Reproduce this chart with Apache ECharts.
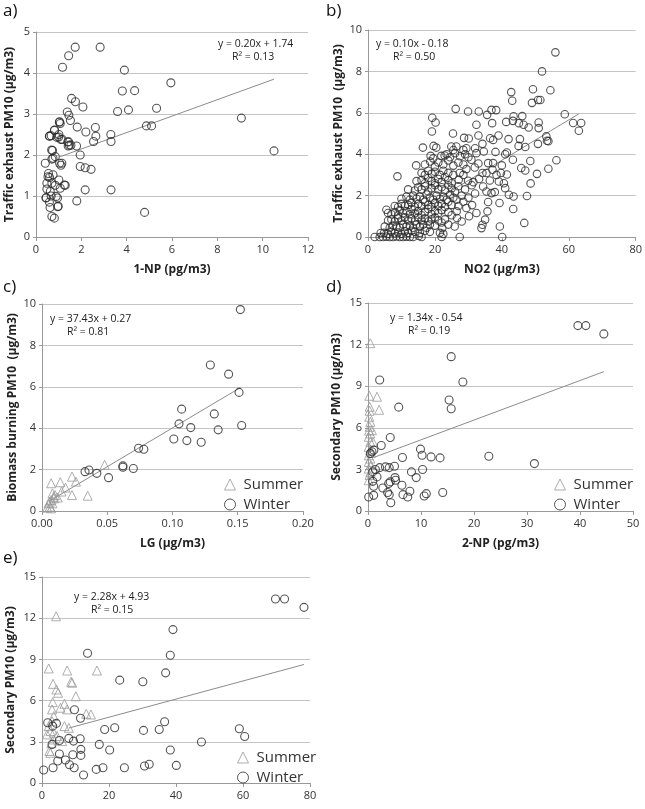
<!DOCTYPE html>
<html>
<head>
<meta charset="utf-8">
<script src="https://cdn.jsdelivr.net/npm/echarts@6/dist/echarts.min.js"></script>
<style>
  html, body { margin: 0; padding: 0; background: #fff; }
  #main { width: 645px; height: 809px; }
</style>
</head>
<body>
<div id="main"></div>
<script>
// a) 1-NP vs traffic exhaust PM10
var aPoints = [
  [1.73,4.63],[2.83,4.63],[1.44,4.42],[1.17,4.14],[3.9,4.07],[5.95,3.76],[3.81,3.56],[4.35,3.57],
  [1.57,3.38],[1.74,3.30],[2.07,3.17],[3.6,3.06],[4.08,3.10],[5.32,3.14],[1.38,3.05],[1.45,2.97],
  [1.04,2.81],[1.52,2.84],[1.07,2.77],[0.82,2.61],[1.82,2.68],[2.62,2.67],[0.6,2.46],[0.67,2.47],
  [1.01,2.5],[2.2,2.56],[2.64,2.46],[3.3,2.5],[0.92,2.43],[1.16,2.38],[1.44,2.32],[1.54,2.24],
  [1.42,2.22],[1.79,2.22],[2.54,2.33],[3.31,2.33],[4.87,2.71],[5.1,2.71],[9.06,2.9],[10.5,2.1],
  [0.73,2.11],[1.95,2.0],[0.85,1.96],[0.7,1.9],[0.75,1.92],[0.41,1.8],[1.04,1.8],[1.1,1.75],
  [1.14,1.8],[1.95,1.72],[2.17,1.69],[2.43,1.65],[0.53,1.47],[0.75,1.52],[1.01,1.39],[1.29,1.26],
  [0.48,1.31],[0.7,1.31],[0.85,1.26],[0.48,1.17],[0.63,1.11],[1.07,1.19],[2.17,1.15],[3.31,1.15],
  [0.45,0.96],[0.67,1.0],[0.89,0.99],[0.95,0.95],[0.59,0.85],[1.8,0.88],[0.62,0.72],[0.98,0.75],
  [0.7,0.5],[0.81,0.46],[4.79,0.6],[0.69,2.12],[1.03,2.8],[0.59,2.46],[0.81,2.6],[1.0,2.44],
  [1.1,2.38],[1.4,2.32],[1.47,2.24],[1.25,1.27],[0.6,1.45],[0.55,1.55],[0.44,0.95],[0.96,0.74]
];
var aLine = [[1.07,1.96],[10.5,3.85]];

// b) NO2 vs traffic exhaust PM10
var bPoints = [
  [2,0],[3.5,0],[4.5,0],[5.5,0.02],[6.5,0],[7.5,0],[8.5,0.03],[9.5,0],[10.5,0],[11.5,0.02],[12.5,0],
  [13.5,0],[15.2,0.05],[16,0],[22,0],[27.4,0],[40.1,0],
  [3.8,0.19],[4.8,0.2],[6,0.15],[7,0.25],[8,0.18],[9,0.22],[10,0.15],[11,0.28],[12,0.2],[13,0.3],
  [14,0.25],[15.5,0.2],[17,0.3],[18.5,0.25],[21.5,0.2],[22.5,0.15],
  [5,0.5],[6.5,0.45],[7.5,0.55],[8.5,0.5],[9.5,0.45],[10.5,0.6],[11.5,0.5],[12.5,0.55],[13.5,0.45],
  [14.5,0.6],[15.5,0.5],[16.5,0.6],[17.5,0.45],[18.5,0.6],[20,0.55],[22.2,0.43],[22,0.7],[25.9,0.51],
  [24,0.6],[33.9,0.43],[34.2,0.59],[39.4,0.51],[46.7,0.68],
  [6,0.8],[7,0.85],[8,0.75],[9,0.9],[10,0.8],[11,0.95],[12,0.8],[13,0.9],[14,0.75],[15,0.95],[16,0.8],
  [17,0.9],[18,0.75],[19,0.85],[20,0.95],[21,0.8],[23,0.85],[26.6,0.92],[30.2,1.0],[35,0.84],[28,0.75],
  [5.5,1.32],[6,1.16],[7,1.1],[8,1.2],[9,1.05],[9.5,1.3],[10.5,1.15],[11.5,1.25],[12.5,1.1],[13,1.35],
  [14,1.15],[15,1.25],[16,1.05],[17,1.2],[18,1.35],[19,1.1],[20,1.25],[21,1.15],[22,1.3],[24,1.2],
  [26.5,1.24],[29.4,1.4],[32.4,1.16],[35.7,1.24],[25,1.05],
  [8,1.5],[9,1.45],[10,1.6],[11,1.5],[12,1.55],[13,1.65],[14,1.45],[15,1.6],[16,1.5],[17,1.7],[18,1.55],
  [19,1.45],[20,1.65],[21,1.5],[22,1.6],[23,1.45],[24,1.7],[25,1.55],[27,1.5],[31.1,1.54],[35.9,1.69],
  [39.3,1.64],[43.4,1.35],[28.5,1.7],
  [10,1.85],[11.5,1.95],[12.5,1.8],[13.5,2.0],[14.5,1.85],[15.5,1.95],[16.5,1.8],[17.5,2.05],[18.5,1.9],
  [19.5,1.8],[20.5,2.0],[21.5,1.85],[22.5,1.95],[23.5,1.8],[24.5,2.05],[25.5,1.9],[26.5,1.8],[28,2.0],
  [30,1.9],[32,2.1],[36.9,2.12],[37.9,2.17],[35.4,2.2],[42.1,2.04],[43.5,1.96],[47.5,1.98],
  [12,2.3],[14,2.25],[15,2.4],[16,2.3],[17,2.45],[18,2.2],[19,2.35],[20,2.5],[21,2.3],[22,2.4],[23,2.25],
  [24,2.5],[25,2.35],[26,2.2],[27,2.45],[29,2.3],[34.4,2.44],[41,2.36],[31,2.5],
  [14.5,2.7],[16,2.75],[17,2.6],[18,2.85],[19,2.7],[20,2.6],[21,2.8],[22,2.65],[23,2.9],[24,2.75],
  [25,2.6],[27.1,2.77],[29.9,2.72],[33.2,2.8],[36.4,2.73],[39.1,2.68],[40.6,2.6],[48.6,2.59],[31.5,2.65],
  [8.8,2.93],[16,3.1],[17,3.0],[18,3.2],[19,3.05],[20,3.15],[21.5,3.0],[22.5,3.2],[24,3.1],[25.5,3.0],
  [27.4,3.09],[29.4,3.28],[31.9,3.36],[34.2,3.09],[35.4,3.09],[37.2,3.25],[38.4,3.0],[39.7,3.09],
  [41.5,3.02],[45.8,3.33],[47,3.21],[50.5,3.05],[53.9,3.3],[28.5,3.0],
  [14.4,3.46],[17,3.5],[18.6,3.65],[20,3.4],[21,3.6],[22.5,3.5],[24,3.7],[25.5,3.45],[27,3.6],[28.5,3.5],
  [30.9,3.73],[33,3.55],[35.9,3.57],[37.4,3.57],[40,3.46],[43.3,3.73],[48.5,3.67],[56.3,3.71],
  [18.7,3.92],[19.5,3.8],[21.9,3.92],[22.9,3.94],[23.5,4.0],[24.5,3.85],[26,4.05],[27.5,3.9],[29,4.0],
  [32.4,4.05],[34.6,4.13],[38.1,4.11],[41,4.0],[41.5,4.08],[30,3.85],
  [16.4,4.32],[19.6,4.4],[20.4,4.32],[24.9,4.37],[26.4,4.37],[28.5,4.21],[29.4,4.29],[32,4.29],
  [34.2,4.5],[37.4,4.69],[50.8,4.5],[25.5,4.2],[45,4.4],[47,4.35],
  [25.4,5.0],[28.7,4.79],[30.1,4.76],[36.5,4.77],[42,4.73],[45.4,4.73],[53.3,4.86],[53.9,4.63],
  [39,4.9],[33,4.9],[53.5,4.65],
  [19.1,5.1],[19.2,5.76],[20.2,5.53],[26.2,6.19],[29.9,6.06],[33.1,6.06],[36.9,6.14],[38.3,6.13],
  [35.6,5.9],[32.4,5.42],[37.1,5.5],[41.3,5.56],[43.5,5.83],[46.1,5.84],[43.3,5.61],[45.1,5.5],
  [46.5,5.42],[48,5.29],[51,5.53],[51,5.26],[42.8,7.0],[49.3,7.14],[54.5,7.09],[43.1,6.58],[49,6.48],
  [50.8,6.62],[51.5,6.62],[52,8.0],[56,8.92],[58.8,5.93],[63.7,5.51],[63,5.13],[61.3,5.51]
];
var bLine = [[2.5,0.05],[63,5.95]];

// c) LG vs biomass burning PM10
var cSummer = [
  [0.048,2.23],[0.023,1.66],[0.026,1.42],[0.014,1.39],[0.007,1.34],[0.018,1.13],[0.015,0.94],
  [0.023,0.77],[0.035,0.74],[0.009,0.61],[0.007,0.53],[0.008,0.37],[0.006,0.21],[0.009,0.69],
  [0.01,0.77],[0.012,0.65],[0.005,0.37],[0.007,0.13],[0.004,0.16],[0.006,0.45],[0.008,0.85]
];
var cWinter = [
  [0.152,9.73],[0.129,7.05],[0.143,6.61],[0.151,5.73],[0.132,4.69],[0.153,4.13],[0.135,3.92],
  [0.114,4.03],[0.107,4.92],[0.105,4.21],[0.101,3.48],[0.111,3.4],[0.122,3.32],[0.074,3.03],
  [0.078,2.98],[0.062,2.18],[0.062,2.11],[0.07,2.05],[0.051,1.61],[0.042,1.82],[0.036,1.98],
  [0.033,1.9]
];
var cLine = [[0.007,0.53],[0.152,5.96]];

// d) 2-NP vs secondary PM10
var dSummer = [
  [0.44,12.1],[0.25,8.31],[1.7,8.24],[2.1,7.3],[0.31,7.52],[0.31,7.23],[0.25,6.8],[0.44,6.43],
  [0.31,6.07],[0.75,5.83],[0.44,5.59],[0.13,5.35],[0.44,4.99],[0.94,4.99],[0.13,4.63],[0.44,4.39],
  [0.13,4.02],[0.44,3.78],[0.13,3.54],[0.57,3.3],[0.13,3.06],[0.44,2.82],[0.13,2.22],[0.3,2.6],
  [0.6,4.2],[0.2,5.8]
];
var dWinter = [
  [39.6,13.37],[41.1,13.37],[44.5,12.77],[15.7,11.13],[17.9,9.3],[2.2,9.45],[15.3,8.0],[15.7,7.37],
  [5.8,7.49],[4.2,5.3],[2.5,4.72],[9.9,4.46],[10.2,4.02],[11.9,3.9],[13.6,3.83],[22.8,3.95],
  [31.4,3.42],[6.5,3.86],[0.75,4.27],[0.44,4.14],[1.1,4.39],[0.9,2.82],[1.4,2.99],[2.2,3.13],
  [3.3,3.18],[5,3.23],[4.0,3.13],[8.2,2.82],[10.3,2.99],[9.1,2.41],[5.1,2.41],[4.2,2.1],[3.9,1.98],
  [0.9,2.14],[2.8,1.66],[1.07,1.78],[3.7,1.33],[4.0,1.18],[4.3,0.6],[1.07,1.13],[0.13,1.01],
  [6.6,1.18],[7.5,1.01],[7.9,1.42],[10.6,1.08],[11,1.25],[14.1,1.33],[6.4,1.86],[5.2,2.22],[1.7,2.46]
];
var dLine = [[1.07,3.86],[44.5,10.05]];

// e) secondary PM10 (second tracer)
var eSummer = [
  [4.2,12.14],[2,8.34],[7.5,8.19],[16.4,8.19],[8.7,7.37],[9.0,7.3],[3.3,7.22],[4.3,6.81],[4.8,6.57],
  [10.1,6.32],[3.2,5.89],[6.7,5.77],[3,5.36],[5.5,5.48],[7.5,5.36],[3.5,4.87],[13.2,5.04],[14.6,4.99],
  [8,4.02],[6.7,4.14],[2,4.14],[2.5,3.78],[3.5,3.66],[1.5,3.54],[2.2,2.33],[2.5,2.2],[3.5,3.17],
  [4.5,3.42],[6,3.05],[3.0,4.5],[2.8,2.9]
];
var eWinter = [
  [69.7,13.4],[72.4,13.4],[78.2,12.79],[39.1,11.17],[38.3,9.3],[13.6,9.45],[36.9,8.02],[23.2,7.49],
  [30.1,7.37],[9.7,5.33],[11.5,4.72],[1.7,4.39],[36.6,4.46],[35,3.9],[21.7,4.02],[18.7,3.9],
  [30.3,3.83],[58.9,3.95],[60.5,3.39],[47.6,2.98],[38.3,2.4],[20.2,2.4],[17.1,2.81],[11.4,3.22],
  [8,3.25],[5.2,3.1],[3,2.81],[9.4,3.05],[11.6,2.45],[11.6,2.01],[9.2,2.06],[5.2,2.11],[4.7,1.6],
  [7,1.67],[8.2,1.33],[9.6,1.11],[0.5,0.95],[3.3,1.11],[12.4,0.58],[16.2,0.99],[18.2,1.11],
  [24.6,1.11],[30.6,1.24],[32,1.36],[40.1,1.28],[3.2,4.14],[4.3,4.34]
];
var eLine = [[8,4.0],[78.2,8.63]];

var panelLetters = ['a)', 'b)', 'c)', 'd)', 'e)'];
var equations = ['y = 0.20x + 1.74', 'y = 0.10x - 0.18', 'y = 37.43x + 0.27', 'y = 1.34x - 0.54', 'y = 2.28x + 4.93'];
var rSquared = ['R\u00b2 = 0.13', 'R\u00b2 = 0.50', 'R\u00b2 = 0.81', 'R\u00b2 = 0.19', 'R\u00b2 = 0.15'];

var chart = echarts.init(document.getElementById('main'));
var FONT = 'Open Sans';

function xAxis(grid, min, max, interval, name, digits) {
  return {
    type: 'value', gridIndex: grid, min: min, max: max, interval: interval,
    name: name, nameLocation: 'middle', nameGap: 27,
    nameTextStyle: { fontFamily: FONT, fontWeight: 'bold', fontSize: 12, color: '#222' },
    axisLine: { lineStyle: { color: '#999' } },
    axisTick: { show: true, length: 4, lineStyle: { color: '#999' } },
    axisLabel: { fontFamily: FONT, fontSize: 11, color: '#333', margin: 7,
      formatter: function (v) { return digits ? v.toFixed(digits) : String(v); } },
    splitLine: { show: false }
  };
}
function yAxis(grid, min, max, interval, name, gap) {
  return {
    type: 'value', gridIndex: grid, min: min, max: max, interval: interval,
    name: name, nameLocation: 'middle', nameGap: gap,
    nameTextStyle: { fontFamily: FONT, fontWeight: 'bold', fontSize: 12, color: '#222' },
    axisLine: { show: true, lineStyle: { color: '#999' } },
    axisTick: { show: true, length: 3, lineStyle: { color: '#999' } },
    axisLabel: { fontFamily: FONT, fontSize: 11, color: '#333', margin: 6 },
    splitLine: { lineStyle: { color: '#c4c4c4', width: 1 } }
  };
}
function circles(name, data, idx, size) {
  return { name: name, type: 'scatter', xAxisIndex: idx, yAxisIndex: idx, data: data,
    symbol: 'circle', symbolSize: size, z: 3,
    itemStyle: { color: 'rgba(255,255,255,0)', borderColor: '#2a2a2a', borderWidth: 1.1 } };
}
function triangles(name, data, idx) {
  return { name: name, type: 'scatter', xAxisIndex: idx, yAxisIndex: idx, data: data,
    symbol: 'triangle', symbolSize: 9, z: 3,
    itemStyle: { color: 'rgba(255,255,255,0)', borderColor: '#9a9a9a', borderWidth: 1 } };
}
function trend(data, idx) {
  return { type: 'line', xAxisIndex: idx, yAxisIndex: idx, data: data, symbol: 'none', z: 2,
    silent: true, lineStyle: { color: '#8c8c8c', width: 1 } };
}
function legendAt(left, top) {
  return { data: ['Summer', 'Winter'], orient: 'vertical', left: left, top: top,
    itemWidth: 11, itemHeight: 11, itemGap: 5,
    itemStyle: { borderWidth: 1 },
    textStyle: { fontFamily: FONT, fontSize: 15, color: '#333', padding: [0, 0, 0, 3] } };
}

var letterPos = [[3, 3], [326, 3], [3, 279], [326, 279], [3, 550]];
var eqPos = [[218, 39, 232, 52], [376, 39, 393, 52], [50, 314, 67, 327], [390, 313, 408, 326], [74, 592, 91, 605]];
var graphics = [];
panelLetters.forEach(function (t, i) {
  graphics.push({ type: 'text', left: letterPos[i][0], top: letterPos[i][1],
    style: { text: t, fontFamily: FONT, fontSize: 17, fill: '#111' } });
  graphics.push({ type: 'text', left: eqPos[i][0], top: eqPos[i][1],
    style: { text: equations[i], fontFamily: FONT, fontSize: 10.5, fill: '#222' } });
  graphics.push({ type: 'text', left: eqPos[i][2], top: eqPos[i][3],
    style: { text: rSquared[i], fontFamily: FONT, fontSize: 10.5, fill: '#222' } });
});

var option = {
  backgroundColor: '#fff',
  animation: false,
  grid: [
    { left: 36, top: 32, width: 272, height: 205 },
    { left: 368, top: 30, width: 268, height: 207 },
    { left: 42, top: 304, width: 261, height: 207 },
    { left: 368, top: 303, width: 265, height: 208 },
    { left: 42, top: 577, width: 268, height: 206 }
  ],
  xAxis: [
    xAxis(0, 0, 12, 2, '1-NP (pg/m3)'),
    xAxis(1, 0, 80, 20, 'NO2 (\u00b5g/m3)'),
    xAxis(2, 0, 0.2, 0.05, 'LG (\u00b5g/m3)', 2),
    xAxis(3, 0, 50, 10, '2-NP (pg/m3)'),
    xAxis(4, 0, 80, 20, '')
  ],
  yAxis: [
    yAxis(0, 0, 5, 1, 'Traffic exhaust PM10 (\u00b5g/m3)', 20),
    yAxis(1, 0, 10, 2, 'Traffic exhaust PM10  (\u00b5g/m3)', 23),
    yAxis(2, 0, 10, 2, 'Biomass burning PM10  (\u00b5g/m3)', 23),
    yAxis(3, 0, 15, 3, 'Secondary PM10 (\u00b5g/m3)', 25),
    yAxis(4, 0, 15, 3, 'Secondary PM10 (\u00b5g/m3)', 25)
  ],
  legend: [legendAt(219, 472), legendAt(549, 472), legendAt(232, 745)],
  graphic: graphics,
  series: [
    trend(aLine, 0), circles('a', aPoints, 0, 8),
    trend(bLine, 1), circles('b', bPoints, 1, 7.5),
    trend(cLine, 2), triangles('Summer', cSummer, 2), circles('Winter', cWinter, 2, 8),
    trend(dLine, 3), triangles('Summer', dSummer, 3), circles('Winter', dWinter, 3, 8),
    trend(eLine, 4), triangles('Summer', eSummer, 4), circles('Winter', eWinter, 4, 8)
  ]
};

chart.setOption(option);
</script>
</body>
</html>
